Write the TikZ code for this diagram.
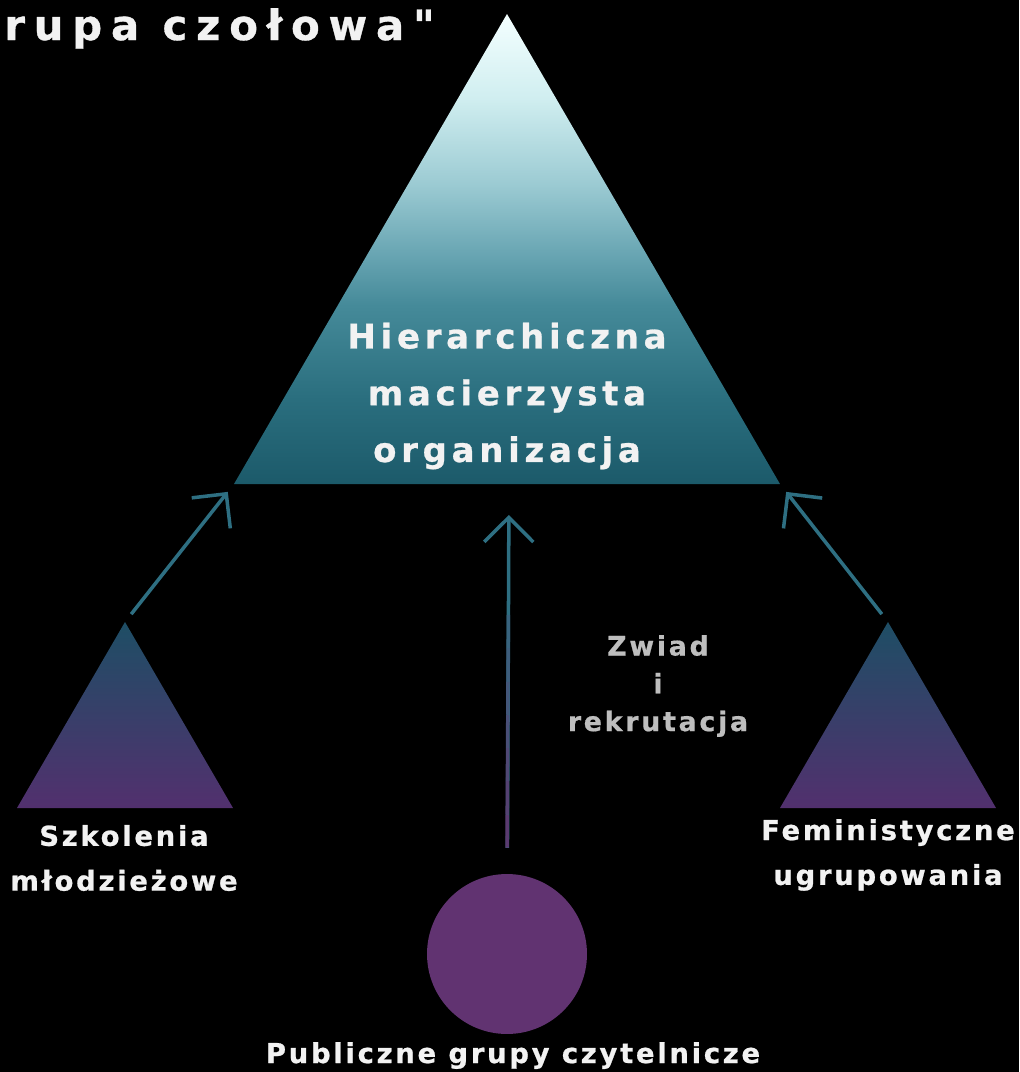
\documentclass[tikz,border=0pt]{standalone}
\usepackage{fontspec}
\usetikzlibrary{arrows.meta,calc}

\newfontfamily\bigfont[LetterSpace=14,FakeBold=0.8]{DejaVu Sans Bold}
\newfontfamily\titlefont[LetterSpace=21,FakeBold=0.8]{DejaVu Sans Bold}
\newfontfamily\lblfont[LetterSpace=10,FakeBold=0.8]{DejaVu Sans Bold}
\newfontfamily\midfont[LetterSpace=10,FakeBold=0.6]{DejaVu Sans Bold}

\definecolor{tealtop}{HTML}{F4FFFF}
\definecolor{tealA}{HTML}{D0EEF0}
\definecolor{tealB}{HTML}{9CCBD3}
\definecolor{tealC}{HTML}{6CA8B5}
\definecolor{tealD}{HTML}{458A99}
\definecolor{tealE}{HTML}{2A6E7E}
\definecolor{tealbot}{HTML}{1C5A6A}
\definecolor{subtop}{HTML}{1E4E65}
\definecolor{submid}{HTML}{37406B}
\definecolor{subbot}{HTML}{52306E}
\definecolor{circpurple}{HTML}{613371}
\definecolor{arrteal}{HTML}{2E6F82}
\definecolor{arrpurple}{HTML}{5A3A70}
\definecolor{txtgray}{HTML}{BEBEBE}
\definecolor{txtwhite}{HTML}{F2F2F2}

\pgfdeclareverticalshading{mothershade}{100bp}{color(0bp)=(tealbot); color(25bp)=(tealbot);
  color(34bp)=(tealE); color(44bp)=(tealD); color(50bp)=(tealC); color(57bp)=(tealB);
  color(66bp)=(tealA); color(75bp)=(tealtop); color(100bp)=(tealtop)}

\tikzset{
  lbl/.style={text=txtwhite, align=center, inner sep=0pt,
    font=\lblfont\fontsize{15.6}{25.5}\selectfont},
  arr/.style={draw=arrteal, line width=2pt,
    -{Straight Barb[length=14pt,width=28pt]}},
  subtri/.style={top color=subtop, middle color=submid, bottom color=subbot},
}

\begin{document}
\begin{tikzpicture}[x=0.02cm, y=-0.02cm]
\useasboundingbox (0,0) rectangle (1019,1072);
\fill[black] (0,0) rectangle (1019,1072);

% macierzysta organizacja
\coordinate (mT) at (507,14);
\coordinate (mL) at (234,484);
\coordinate (mR) at (780,484);
\coordinate (mB) at (509,484);
\shade[shading=mothershade] (mT) -- (mR) -- (mL) -- cycle;

% male trojkaty
\coordinate (sT) at (125,622);
\coordinate (sL) at (17,808);
\coordinate (sR) at (233,808);
\shade[subtri] (sT) -- (sR) -- (sL) -- cycle;
\coordinate (fT) at (888,622);
\coordinate (fL) at (780,808);
\coordinate (fR) at (996,808);
\shade[subtri] (fT) -- (fR) -- (fL) -- cycle;

\node[circle, fill=circpurple, minimum size=3.2cm, inner sep=0pt] (pub) at (507,954) {};

% teksty
\node[lbl, anchor=base west, font=\titlefont\fontsize{23.8}{27}\selectfont] (title) at (4,40) {rupa czołowa"};
\node[lbl, font=\bigfont\fontsize{19.3}{32.3}\selectfont] (mtext) at (507,396) {Hierarchiczna\\macierzysta\\organizacja};
\node[lbl] (stext) at (124,858) {Szkolenia\\młodzieżowe};
\node[lbl] (ftext) at (888,855) {Feministyczne\\ugrupowania};
\node[lbl, anchor=base] (ptext) at (513,1063) {Publiczne grupy czytelnicze};
\node[lbl, text=txtgray, font=\midfont\fontsize{15.3}{21.5}\selectfont] (ztext) at (658,686) {Zwiad\\i\\rekrutacja};

% strzalki
\draw[arr, shorten <=5.7pt, shorten >=5.7pt] (sT) -- (mL);
\draw[arr, shorten <=5.7pt, shorten >=5.7pt] (fT) -- (mR);
\draw[arr, shorten <=14.7pt, shorten >=17.6pt] (pub) -- (mB);
\coordinate (zBot) at ($(pub.north)+(0,-26)$);
\coordinate (zTop) at ($(mB)+(0,31)$);
\foreach \k [evaluate=\k as \p using int(100-13*\k),
             evaluate=\k as \a using \k/10,
             evaluate=\k as \b using (\k+1)/10] in {0,...,6}
  \draw[line width=2pt, arrpurple!\p!arrteal] ($(zBot)!\a!(zTop)$) -- ($(zBot)!\b!(zTop)$);
\end{tikzpicture}
\end{document}
